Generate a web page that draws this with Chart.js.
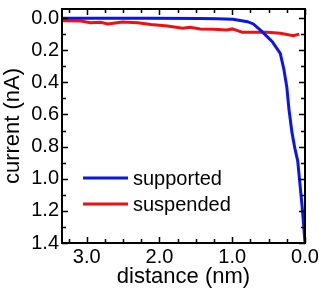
<!DOCTYPE html>
<html lang="en">
<head>
<meta charset="UTF-8">
<title>current vs distance</title>
<script src="https://cdn.jsdelivr.net/npm/chart.js"></script>
<style>
  html, body { margin: 0; padding: 0; background: #fff; }
  #wrap { width: 327px; height: 290px; }
</style>
</head>
<body>
<div id="wrap"><canvas id="chart"></canvas></div>
<script>
// distance (nm) and current (nA)
const supportedDist = [3.33, 2.81, 2.12, 1.44, 1.21, 0.99, 0.79, 0.71, 0.59, 0.45, 0.34, 0.29, 0.25, 0.22, 0.18, 0.14, 0.10, 0.07, 0.04, 0.02, 0.00];
const supportedCurrent = [0.002, 0.002, 0.002, 0.003, 0.005, 0.008, 0.023, 0.037, 0.085, 0.147, 0.22, 0.32, 0.43, 0.57, 0.71, 0.81, 0.89, 1.03, 1.17, 1.28, 1.40];

const suspendedDist = [3.33, 3.08, 2.95, 2.81, 2.71, 2.51, 2.30, 2.12, 1.89, 1.68, 1.58, 1.44, 1.26, 1.07, 1.00, 0.86, 0.71, 0.52, 0.34, 0.16, 0.08];
const suspendedCurrent = [0.017, 0.019, 0.029, 0.027, 0.037, 0.025, 0.029, 0.040, 0.050, 0.064, 0.058, 0.068, 0.070, 0.075, 0.068, 0.089, 0.089, 0.089, 0.095, 0.11, 0.10];

const xTicks = [3.0, 2.0, 1.0, 0.0];
const yTicks = [0.0, 0.2, 0.4, 0.6, 0.8, 1.0, 1.2, 1.4];

const FONT = '"Liberation Sans", Arial, Helvetica, sans-serif';

const toPoints = (xs, ys) => xs.map((x, i) => ({ x: x, y: ys[i] }));

// box around the plot with inward ticks on all sides
const frame = {
    id: 'frame',
    afterDraw(chart) {
        const ctx = chart.ctx;
        const a = chart.chartArea;
        const xs = chart.scales.x, ys = chart.scales.y;
        ctx.save();
        ctx.strokeStyle = '#000';
        ctx.lineWidth = 2;
        ctx.strokeRect(a.left, a.top, a.right - a.left, a.bottom - a.top);
        ctx.lineWidth = 1.5;
        ctx.beginPath();
        for (let v = 0; v <= 3.3; v += 0.25) {
            const px = Math.round(xs.getPixelForValue(v)) + 0.5;
            const len = Math.abs(v - Math.round(v)) < 0.01 ? 6 : 4;
            ctx.moveTo(px, a.bottom); ctx.lineTo(px, a.bottom - len);
            ctx.moveTo(px, a.top); ctx.lineTo(px, a.top + len);
        }
        for (let k = 0; k <= 14; k++) {
            const py = Math.round(ys.getPixelForValue(k / 10)) + 0.5;
            const len = k % 2 === 0 ? 6 : 4;
            ctx.moveTo(a.left, py); ctx.lineTo(a.left + len, py);
            ctx.moveTo(a.right, py); ctx.lineTo(a.right - len, py);
        }
        ctx.stroke();
        ctx.restore();
    }
};

// legend sitting inside the plot, lower left
const insideLegend = {
    id: 'insideLegend',
    afterDraw(chart) {
        const ctx = chart.ctx;
        const a = chart.chartArea;
        ctx.save();
        ctx.font = '20px ' + FONT;
        ctx.textBaseline = 'middle';
        chart.data.datasets.forEach((ds, i) => {
            const y = a.top + 169 + i * 26;
            ctx.strokeStyle = ds.borderColor;
            ctx.lineWidth = 3;
            ctx.beginPath();
            ctx.moveTo(a.left + 21, y);
            ctx.lineTo(a.left + 66, y);
            ctx.stroke();
            ctx.fillStyle = '#000';
            ctx.fillText(ds.label, a.left + 71, y + 1);
        });
        ctx.restore();
    }
};

new Chart(document.getElementById('chart'), {
    type: 'line',
    data: {
        datasets: [{
            label: 'supported',
            data: toPoints(supportedDist, supportedCurrent),
            borderColor: '#0a14f0',
            borderWidth: 3,
            pointRadius: 0,
            tension: 0
        }, {
            label: 'suspended',
            data: toPoints(suspendedDist, suspendedCurrent),
            borderColor: '#f01010',
            borderWidth: 3,
            pointRadius: 0,
            tension: 0
        }]
    },
    options: {
        responsive: true,
        maintainAspectRatio: false,
        animation: false,
        layout: { padding: { top: 9, right: 22, left: 0, bottom: 0 } },
        plugins: {
            legend: { display: false },
            tooltip: { enabled: false }
        },
        scales: {
            x: {
                type: 'linear',
                reverse: true,
                min: 0,
                max: 3.34,
                afterBuildTicks: (scale) => { scale.ticks = xTicks.map(v => ({ value: v })); },
                afterFit: (scale) => { scale.height = 47; scale.paddingLeft = 0; scale.paddingRight = 0; },
                grid: { display: false, drawTicks: false },
                border: { display: false },
                ticks: {
                    color: '#000',
                    padding: 2,
                    maxRotation: 0,
                    font: { family: FONT, size: 20 },
                    callback: (v) => Number(v).toFixed(1)
                },
                title: {
                    display: true,
                    text: 'distance (nm)',
                    color: '#000',
                    padding: { top: 0, bottom: 0 },
                    font: { family: FONT, size: 22 }
                }
            },
            y: {
                type: 'linear',
                reverse: true,
                min: -0.056,
                max: 1.4,
                afterBuildTicks: (scale) => { scale.ticks = yTicks.map(v => ({ value: v })); },
                afterFit: (scale) => { scale.width = 62; scale.paddingTop = 0; scale.paddingBottom = 0; },
                grid: { display: false, drawTicks: false },
                border: { display: false },
                ticks: {
                    color: '#000',
                    padding: 3,
                    font: { family: FONT, size: 20 },
                    callback: (v) => Number(v).toFixed(1)
                },
                title: {
                    display: true,
                    text: 'current (nA)',
                    color: '#000',
                    padding: { top: 0, bottom: 0 },
                    font: { family: FONT, size: 22 }
                }
            }
        }
    },
    plugins: [frame, insideLegend]
});
</script>
</body>
</html>
